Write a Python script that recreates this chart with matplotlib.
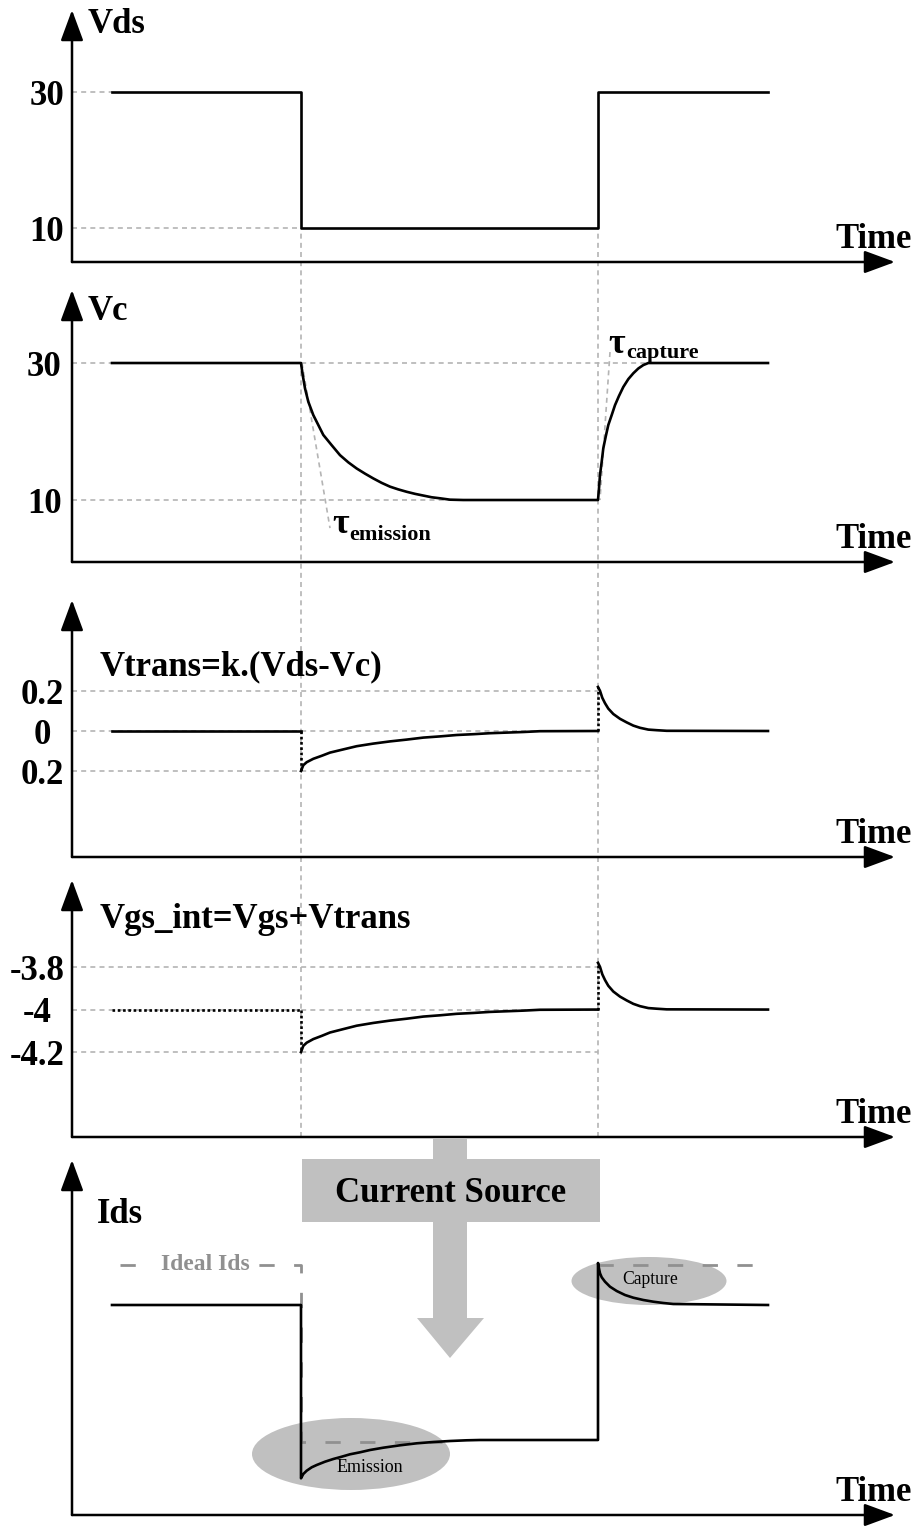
import matplotlib.pyplot as plt
from matplotlib.patches import Ellipse, Rectangle, Polygon

plt.rcParams['font.family'] = ['Liberation Serif', 'DejaVu Serif']
plt.rcParams['font.weight'] = 'bold'

W, H = 922, 1528

# switching instants (arbitrary time units)
t_start = 4.0
t_down = 22.9
t_up = 52.6
t_end = 69.6
t_max = 82.3

# Vds step
vds_t = [t_start, t_down, t_down, t_up, t_up, t_end]
vds_v = [30, 30, 10, 10, 30, 30]

# Vc (trap voltage)
vc_t = [t_start, t_down, 23.07, 23.3, 23.63, 24.13, 24.63, 25.13, 25.97, 26.8, 27.63, 28.47,
        29.3, 30.13, 30.97, 31.8, 32.63, 33.47, 34.3, 35.13, 35.97, 36.8, 37.8, 39.13,
        t_up, 52.7, 52.8, 52.97, 53.13, 53.37, 53.63, 53.97, 54.3, 54.7, 55.13, 55.63,
        56.13, 56.63, 57.13, 57.63, 57.97, t_end]
vc_v = [30, 30, 28.25, 26.3, 24.35, 22.4, 20.95, 19.5, 18.0, 16.55, 15.5, 14.6,
        13.85, 13.15, 12.5, 11.95, 11.55, 11.2, 10.9, 10.65, 10.4, 10.25, 10.05, 10.0,
        10.0, 11.7, 13.65, 15.6, 17.55, 19.25, 20.95, 22.4, 23.85, 25.2, 26.5, 27.65,
        28.5, 29.2, 29.7, 30.0, 30.0, 30.0]

# Vtrans
vtr_flat_t = [t_start, t_down]
vtr_flat_v = [0, 0]
vtr_emi_t = [t_down, 23.13, 23.47, 24.13, 24.97, 25.8, 27.13, 28.47, 30.13, 31.8, 33.47,
             35.13, 36.8, 38.47, 40.13, 41.8, 43.47, 45.13, 46.8, t_up]
vtr_emi_v = [-0.2, -0.171, -0.156, -0.139, -0.124, -0.108, -0.092, -0.076, -0.063, -0.052,
             -0.043, -0.033, -0.027, -0.020, -0.016, -0.011, -0.008, -0.005, -0.001, 0]
vtr_cap_t = [t_up, 52.8, 53.03, 53.3, 53.63, 54.13, 54.8, 55.47, 56.13, 56.8, 57.63,
             58.47, 59.47, t_end]
vtr_cap_v = [0.22, 0.201, 0.166, 0.139, 0.112, 0.085, 0.061, 0.043, 0.027, 0.016, 0.007,
             0.004, 0.001, 0]

# Vgs_int
vgs_flat_t = [t_start, t_down]
vgs_flat_v = [-4, -4]
vgs_emi_t = [t_down, 23.13, 23.47, 24.13, 24.97, 25.8, 27.13, 28.47, 30.13, 31.8, 33.47,
             35.13, 36.8, 38.47, 40.13, 41.8, 43.47, 45.13, 46.8, t_up]
vgs_emi_v = [-4.2, -4.171, -4.156, -4.139, -4.124, -4.108, -4.092, -4.076, -4.063, -4.052,
             -4.043, -4.033, -4.027, -4.020, -4.016, -4.011, -4.008, -4.005, -4.001, -4]
vgs_cap_t = [t_up, 52.8, 53.03, 53.3, 53.63, 54.13, 54.8, 55.47, 56.13, 56.8, 57.63,
             58.47, 59.47, t_end]
vgs_cap_v = [-3.78, -3.799, -3.834, -3.861, -3.888, -3.915, -3.939, -3.957, -3.973, -3.984,
             -3.993, -3.996, -3.999, -4]

# Ids (arbitrary units)
ids_t = [t_start, t_down, t_down, 23.13, 23.47, 23.97, 24.47, 25.3, 26.13, 26.97, 27.8,
         28.8, 29.8, 31.13, 32.8, 34.47, 36.13, 37.8, 39.47, 40.8,
         t_up, t_up, 52.73, 52.8, 52.97, 53.3, 53.8, 54.47, 55.3, 56.13, 57.13, 58.13,
         59.13, 60.13, t_end]
ids_v = [2.1, 2.1, 0.367, 0.41, 0.443, 0.477, 0.5, 0.533, 0.56, 0.583, 0.607,
         0.627, 0.65, 0.673, 0.697, 0.717, 0.73, 0.74, 0.747, 0.75,
         0.75, 2.52, 2.45, 2.417, 2.377, 2.333, 2.283, 2.24, 2.2, 2.173, 2.15, 2.133,
         2.12, 2.11, 2.1]
ideal_t = [4.8, t_down, t_down, 37.0]
ideal_v = [2.5, 2.5, 0.73, 0.73]
ideal2_t = [t_up, t_end]
ideal2_v = [2.5, 2.5]

gcol = '#b4b4b4'
arrow = dict(arrowstyle='-|>,head_length=1.9,head_width=0.7', mutation_scale=10,
             lw=1.8, color='k', shrinkA=0, shrinkB=0)

fig = plt.figure(figsize=(W / 100, H / 100), dpi=100)


def px_box(y_axis, y_tip):
    return [72 / W, 1 - y_axis / H, (895 - 72) / W, (y_axis - y_tip) / H]


# vertical guides through the four upper panels
guide = fig.add_axes(px_box(1137, 228))
guide.set_xlim(0, t_max)
guide.set_ylim(0, 1)
guide.axis('off')
for t in [t_down, t_up]:
    guide.plot([t, t], [0, 1], color=gcol, lw=1.2, dashes=(3, 2.5))


def panel(y_axis, y_tip, ylim, ticks, labels, pad):
    ax = fig.add_axes(px_box(y_axis, y_tip))
    ax.patch.set_visible(False)
    ax.set_xlim(0, t_max)
    ax.set_ylim(*ylim)
    for s in ax.spines.values():
        s.set_visible(False)
    ax.set_xticks([])
    ax.set_yticks(ticks, labels)
    ax.tick_params(axis='y', length=0, pad=pad, labelsize=25)
    for lab in ax.get_yticklabels():
        lab.set_ha('center')
        lab.set_fontweight('bold')
    ax.annotate('', xy=(0, 1), xytext=(0, 0), xycoords='axes fraction', arrowprops=arrow)
    ax.annotate('', xy=(1, 0), xytext=(0, 0), xycoords='axes fraction', arrowprops=arrow)
    ax.annotate('Time', xy=(1, 0), xycoords='axes fraction', xytext=(12.2, 10),
                textcoords='offset points', ha='right', va='baseline',
                fontsize=25, fontweight='bold')
    return ax


def hguide(ax, level, t_stop):
    ax.plot([0, t_stop], [level, level], color=gcol, lw=1.2, dashes=(3, 2.5), zorder=1)


def title(x, y, s):
    fig.text(x / W, 1 - y / H, s, fontsize=25, fontweight='bold', va='baseline')


lw = 1.9
dot = (0, (1, 1))

# panel 1: Vds
ax1 = panel(262, 10, (5.0, 42.06), [30, 10], ['30', '10'], 18)
hguide(ax1, 30, t_start)
hguide(ax1, 10, t_down)
ax1.plot(vds_t, vds_v, color='k', lw=lw, zorder=3)
title(88, 33, 'Vds')

# panel 2: Vc
ax2 = panel(562, 290, (0.95, 40.66), [30, 10], ['30', '10'], 20)
hguide(ax2, 30, 57.6)
hguide(ax2, 10, t_up)
ax2.plot(vc_t, vc_v, color='k', lw=lw, zorder=3, solid_joinstyle='round')
ax2.plot([23.0, 25.8], [30, 5.9], color=gcol, lw=1.2, dashes=(3, 2.5), zorder=1)
ax2.plot([53.8, 52.8], [31.6, 10], color=gcol, lw=1.2, dashes=(3, 2.5), zorder=1)
ax2.text(26.0, 5.18, 'τ', fontsize=26, fontweight='bold', va='baseline')
ax2.text(27.7, 4.16, 'emission', fontsize=16, fontweight='bold', va='baseline')
ax2.text(53.6, 31.46, 'τ', fontsize=26, fontweight='bold', va='baseline')
ax2.text(55.4, 30.73, 'capture', fontsize=16, fontweight='bold', va='baseline')
title(88, 320, 'Vc')

# panel 3: Vtrans
ax3 = panel(857, 600, (-0.63, 0.655), [0.2, 0, -0.2], ['0.2', '0', '0.2'], 21.6)
for lvl in [0.2, 0, -0.2]:
    hguide(ax3, lvl, t_up)
ax3.plot(vtr_flat_t, vtr_flat_v, color='k', lw=lw, zorder=3)
ax3.plot(vtr_emi_t, vtr_emi_v, color='k', lw=lw, zorder=3, solid_joinstyle='round')
ax3.plot(vtr_cap_t, vtr_cap_v, color='k', lw=lw, zorder=3, solid_joinstyle='round')
ax3.plot([t_down, t_down], [vtr_flat_v[-1], vtr_emi_v[0]], color='k', lw=lw, ls=dot, zorder=3)
ax3.plot([t_up, t_up], [vtr_emi_v[-1], vtr_cap_v[0]], color='k', lw=lw, ls=dot, zorder=3)
title(100, 675, 'Vtrans=k.(Vds-Vc)')

# panel 4: Vgs_int
ax4 = panel(1137, 880, (-4.6, -3.39), [-3.8, -4, -4.2], ['-3.8', '-4', '-4.2'], 25)
for lvl in [-3.8, -4, -4.2]:
    hguide(ax4, lvl, t_up)
ax4.plot(vgs_flat_t, vgs_flat_v, color='k', lw=lw, ls=dot, zorder=3)
ax4.plot(vgs_emi_t, vgs_emi_v, color='k', lw=lw, zorder=3, solid_joinstyle='round')
ax4.plot(vgs_cap_t, vgs_cap_v, color='k', lw=lw, zorder=3, solid_joinstyle='round')
ax4.plot([t_down, t_down], [vgs_flat_v[-1], vgs_emi_v[0]], color='k', lw=lw, ls=dot, zorder=3)
ax4.plot([t_up, t_up], [vgs_emi_v[-1], vgs_cap_v[0]], color='k', lw=lw, ls=dot, zorder=3)
title(100, 928, 'Vgs_int=Vgs+Vtrans')

# panel 5: Ids
ax5 = panel(1515, 1160, (0, 3.55), [], [], 0)
ax5.add_patch(Ellipse((27.9, 0.61), 19.8, 0.72, color='#c0c0c0', lw=0, zorder=0))
ax5.add_patch(Ellipse((57.7, 2.34), 15.5, 0.48, color='#c0c0c0', lw=0, zorder=0))
ax5.plot(ideal_t, ideal_v, color='#909090', lw=2, dashes=(5.5, 7), zorder=2)
ax5.plot(ideal2_t, ideal2_v, color='#909090', lw=2, dashes=(5.5, 7), zorder=2)
ax5.plot(ids_t, ids_v, color='k', lw=lw, zorder=3, solid_joinstyle='round')
ax5.text(13.3, 2.5, 'Ideal Ids', fontsize=17, fontweight='bold', color='#909090',
         ha='center', va='center', zorder=4,
         bbox=dict(facecolor='white', edgecolor='none', pad=6))
ax5.text(29.8, 0.48, 'Emission', fontsize=13, fontweight='normal', ha='center', va='center', zorder=4)
ax5.text(57.8, 2.36, 'Capture', fontsize=12.7, fontweight='normal', ha='center', va='center', zorder=4)
title(97, 1223, 'Ids')

# "Current Source" block arrow between Vgs_int and Ids
over = fig.add_axes([0, 0, 1, 1])
over.set_xlim(0, W)
over.set_ylim(H, 0)
over.axis('off')
over.add_patch(Polygon([(433, 1139), (467, 1139), (467, 1318), (484, 1318), (450, 1358),
                        (417, 1318), (433, 1318)], closed=True, color='#c0c0c0', lw=0))
over.add_patch(Rectangle((302, 1159), 298, 63, color='#c0c0c0', lw=0))
over.text(451, 1193, 'Current Source', fontsize=25, fontweight='bold', ha='center', va='center')

plt.savefig('out.png', dpi=100)
